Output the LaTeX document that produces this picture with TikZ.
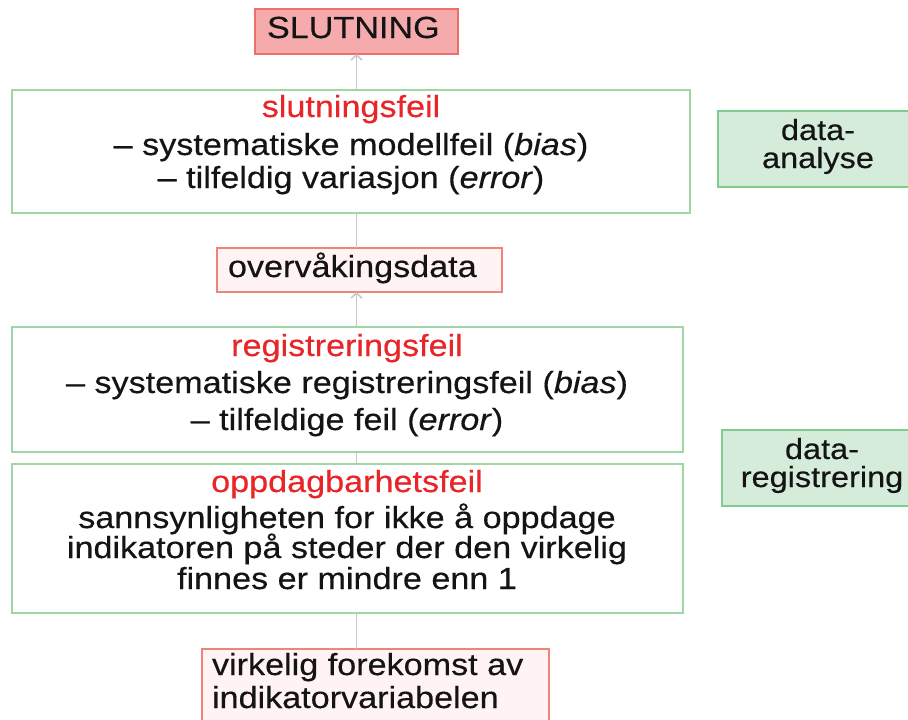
\documentclass[tikz,border=0pt]{standalone}
\usepackage{fontspec}
\setmainfont{Liberation Sans}[FakeStretch=1.12, FakeBold=0.35]
\usetikzlibrary{arrows.meta}

\definecolor{framegreen}{RGB}{160,214,166}
\definecolor{tagfill}{RGB}{214,236,218}
\definecolor{tagdraw}{RGB}{128,204,143}
\definecolor{endfill}{RGB}{245,170,172}
\definecolor{enddraw}{RGB}{238,110,106}
\definecolor{datafill}{RGB}{255,243,243}
\definecolor{datadraw}{RGB}{240,132,120}
\definecolor{titlered}{RGB}{232,38,42}
\definecolor{linkgray}{RGB}{200,200,200}

\begin{document}
\begin{tikzpicture}[x=1pt,y=-1pt,
  every node/.style={inner sep=0pt, outer sep=0pt},
  frame/.style={draw=framegreen, line width=2pt, fill=white, anchor=north west},
  tag/.style={draw=tagdraw, line width=2pt, fill=tagfill, anchor=north west},
  endbox/.style={draw=enddraw, line width=2pt, fill=endfill, anchor=north west},
  databox/.style={draw=datadraw, line width=2pt, fill=datafill, anchor=north west},
  txt/.style={font=\fontsize{30.5}{32}\selectfont, text=black!92, anchor=base},
  txtl/.style={txt, anchor=base west},
  tagtxt/.style={font=\fontsize{29}{30}\selectfont, text=black!92, anchor=base},
  hd/.style={txt, text=titlered, font=\fontsize{30.5}{32}\selectfont},
  link/.style={draw=linkgray, line width=1.6pt, -{Straight Barb[length=5pt,width=11pt]}}
]
\clip (0,0) rectangle (908,720);
\useasboundingbox (0,0) rectangle (908,720);

% boxes whose positions the links refer to
\node[endbox, minimum width=203pt, minimum height=45pt] (sl) at (255,9) {};
\node[databox, minimum width=285pt, minimum height=44pt] (ov) at (217,248) {};
\node[databox, minimum width=347pt, minimum height=90pt] (vk) at (202,649) {};

% links, drawn first so that the white frames hide them
\draw[link] (ov.north -| sl.south) -- (sl.south);
\draw[link] (vk.north -| sl.south) -- (ov.south -| sl.south);

% error frames
\node[frame, minimum width=678pt, minimum height=123pt] (sf) at (12,90) {};
\node[frame, minimum width=671pt, minimum height=125pt] (rf) at (12,327) {};
\node[frame, minimum width=671pt, minimum height=149pt] (of) at (12,464) {};

% stage tags on the right
\node[tag, minimum width=205pt, minimum height=76pt] (da) at (718,111) {};
\node[tag, minimum width=205pt, minimum height=76pt] (dr) at (722,430) {};

% texts
\node[txtl] (slT) at (267,38) {SLUTNING};

\node[hd] (sf1) at (351,117) {slutningsfeil};
\node[txt] (sf2) at (351,155) {– systematiske modellfeil (\textit{bias})};
\node[txt] (sf3) at (351,188) {– tilfeldig variasjon (\textit{error})};

\node[txtl] (ovT) at (228,277) {overvåkingsdata};

\node[hd] (rf1) at (347,356) {registreringsfeil};
\node[txt] (rf2) at (347,393) {– systematiske registreringsfeil (\textit{bias})};
\node[txt] (rf3) at (347,430) {– tilfeldige feil (\textit{error})};

\node[hd] (of1) at (347,492) {oppdagbarhetsfeil};
\node[txt] (of2) at (347,528) {sannsynligheten for ikke å oppdage};
\node[txt] (of3) at (347,558) {indikatoren på steder der den virkelig};
\node[txt] (of4) at (347,589) {finnes er mindre enn 1};

\node[txtl] (vk1) at (212,675) {virkelig forekomst av};
\node[txtl] (vk2) at (212,708) {indikatorvariabelen};

\node[tagtxt] (da1) at (818,140) {data-};
\node[tagtxt] (da2) at (818,168) {analyse};
\node[tagtxt] (dr1) at (822,459) {data-};
\node[tagtxt] (dr2) at (822,487) {registrering};
\end{tikzpicture}
\end{document}
